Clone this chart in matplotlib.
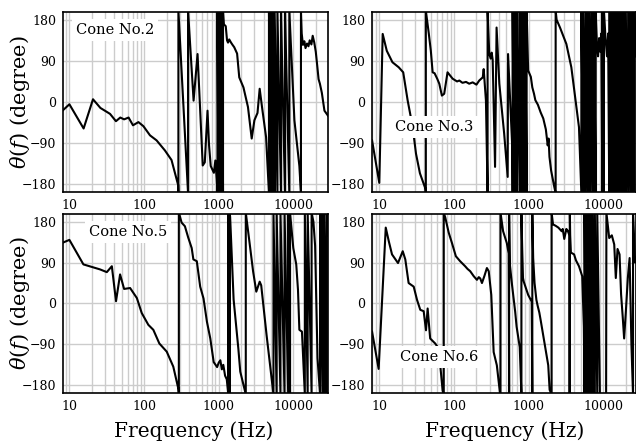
import numpy as np
import matplotlib
matplotlib.use('Agg')
import matplotlib.pyplot as plt
from matplotlib.ticker import LogLocator, NullFormatter

plt.rcParams['font.family'] = 'DejaVu Serif'
plt.rcParams['mathtext.fontset'] = 'dejavuserif'

# phase data: (frequency Hz, phase degree); +-200 marks a wrap
cone2 = [(8.2, -18), (10, -5), (15.5, -58), (20.7, 6), (26, -13), (35, -26), (42, -42), (48, -34),
         (54, -38), (62, -34), (71, -51), (84, -44), (98, -53), (120, -73), (147, -84), (190, -106),
         (233, -127), (286, -182), (288, -200), (288, 200), (388, -200), (388, 200), (460, 3),
         (520, 105), (610, -139), (650, -132), (707, -19), (740, -93), (780, -140), (860, -155),
         (900, -128), (940, -170), (960, -200), (960, 200), (990, -200), (990, 200), (1020, -200),
         (1020, 200), (1050, -200), (1050, 200), (1080, -200), (1080, 200), (1110, -200), (1110, 200),
         (1140, -200), (1140, 200), (1170, 170), (1240, 166), (1290, 135), (1330, 130), (1380, 137),
         (1460, 130), (1530, 125), (1610, 120), (1760, 106), (1880, 54), (2140, 32), (2460, -11),
         (2760, -80), (3000, -40), (3300, -24), (3530, 29), (3800, -12), (4300, -77), (4700, -200),
         (4700, 200), (5000, -200), (5000, 200), (5300, -200), (5300, 200), (5600, -200), (5600, 200),
         (6100, -200), (6100, 200), (6800, -200), (6800, 200), (7700, -200), (7700, 200), (8800, -200),
         (8800, 200), (10300, -40), (12000, -140), (12600, -200), (12600, 200), (12900, 150),
         (13400, 125), (14000, 133), (14500, 118), (15200, 128), (15900, 122), (16500, 135),
         (17400, 126), (18100, 145), (19000, 130), (19900, 110), (20800, 80), (21700, 50),
         (22600, 40), (24000, 20), (26000, -19), (29000, -30)]

cone3 = [(8.0, -84), (10, -177), (11.1, 149), (12.6, 112), (15, 87), (18.2, 76), (20.9, 65), (24, 3),
         (28, -55), (31, -113), (35, -156), (41.3, -189), (42, -200), (42, 200), (46, 150), (49, 112),
         (51.8, 65), (55, 63), (60, 50), (63.6, 40), (68.9, 14), (74, 18), (82, 65), (96, 51),
         (110, 45), (118, 47), (130, 42), (145, 44), (160, 40), (178, 43), (200, 38), (218, 47),
         (243, 54), (250, 72), (268, 3), (282, -200), (282, 200), (297, 105), (310, 95), (320, 108),
         (330, 92), (355, -142), (372, 163), (405, 40), (470, -69), (524, -164), (530, 105),
         (606, -106), (610, -200), (610, 200), (640, -200), (640, 200), (670, -200), (670, 200),
         (700, -200), (700, 200), (760, -200), (760, 200), (800, -200), (800, 200), (850, -200),
         (850, 200), (900, -200), (900, 200), (940, -200), (940, 200), (985, 69), (1070, 55),
         (1120, 32), (1180, 18), (1230, 4), (1330, -6), (1450, -23), (1570, -36), (1700, -60),
         (1800, -95), (1850, -80), (1900, -120), (2000, -150), (2200, -185), (2300, -200), (2300, 200),
         (2370, 180), (2630, 163), (3200, 127), (3730, 76), (4300, -3), (4720, -55), (5080, -200),
         (5080, 200), (5400, -200), (5400, 200), (5800, -200), (5800, 200), (6200, -200), (6200, 200),
         (6600, -200), (6600, 200), (7100, -200), (7100, 200), (7500, -200), (7500, 200), (7900, -200),
         (7900, 200), (8200, 130), (8500, 100), (8800, 140), (9100, 110), (9400, 150), (9700, -200),
         (9700, 200), (10200, -200), (10200, 200), (10700, 140), (11200, 100), (11600, 150),
         (12000, -200), (12000, 200), (12800, -200), (12800, 200), (13600, -200), (13600, 200),
         (14500, -200), (14500, 200), (15300, -200), (15300, 200), (16200, -200), (16200, 200),
         (17000, -200), (17000, 200), (18000, -200), (18000, 200), (19000, -200), (19000, 200),
         (20000, -200), (20000, 200), (21500, -200), (21500, 200), (23000, -200), (23000, 200),
         (24500, -200), (24500, 200), (26000, -200), (26000, 200), (27400, 100)]

cone5 = [(8.2, 134), (10, 140), (15.4, 86), (25.7, 75), (31.7, 69), (37, 82), (42.1, 5), (47.7, 64),
         (54, 32), (65, 34), (80, 12), (93, -21), (114, -47), (133, -58), (160, -88), (201, -106),
         (246, -139), (287, -187), (292, -200), (292, 200), (318, 178), (352, 170), (390, 145),
         (434, 122), (457, 97), (508, 93), (564, 37), (625, 11), (694, -40), (770, -77), (855, -129),
         (950, -140), (1000, -130), (1050, -125), (1100, -145), (1150, -135), (1215, -159),
         (1280, -167), (1340, -200), (1340, 200), (1360, -200), (1360, 200), (1380, -200), (1380, 200),
         (1400, -200), (1400, 200), (1420, 190), (1580, 9), (1830, -100), (1940, -150), (2300, -200),
         (2300, 200), (2600, 130), (2880, 71), (3180, 26), (3530, 48), (3700, 40), (4370, -70),
         (5400, -200), (5400, 200), (5950, -200), (5950, 200), (6700, -200), (6700, 200), (7600, -200),
         (7600, 200), (8500, -200), (8500, 200), (9000, -200), (9000, 200), (9950, 122), (10900, 86),
         (11500, 30), (12000, -58), (13000, -62), (14200, -200), (14200, 200), (15500, -200),
         (15500, 200), (17500, -200), (17500, 200), (18500, 180), (19500, 127), (21000, -120),
         (22700, -200), (22700, 200), (24500, -200), (24500, 200), (26000, -200), (26000, 200),
         (28000, -200), (28000, 200), (29000, 150)]

cone6 = [(8.0, -62), (9.8, -144), (12.2, 167), (13.4, 137), (14.8, 108), (17.8, 89), (20.6, 115),
         (22.3, 97), (24.7, 45), (28.9, 37), (32, 8), (35.4, -14), (39.3, -17), (42.2, -59),
         (44.4, -11), (48, -77), (56, -88), (60, -95), (65.5, -136), (70.5, -192), (73, -200),
         (73, 200), (76.5, 189), (85, 156), (94, 133), (106, 104), (121, 93), (141, 82), (152, 76),
         (165, 71), (184, 60), (203, 52), (215, 58), (225, 55), (237, 45), (255, 60), (276, 78),
         (292, 71), (316, 19), (340, -107), (375, -136), (415, -200), (420, -200), (420, 200),
         (455, 159), (510, 133), (540, 110), (548, -200), (548, 200), (560, 86), (600, 40),
         (660, -18), (690, -51), (760, -96), (800, -200), (800, 200), (820, 120), (840, 56),
         (860, 48), (985, 19), (1100, 4), (1120, -200), (1120, 200), (1150, 100), (1200, 45),
         (1270, 8), (1320, -5), (1390, -20), (1450, -37), (1650, -92), (1830, -136), (1910, -190),
         (2030, -200), (2030, 200), (2120, 174), (2300, 171), (2500, 167), (2770, 159), (2860, 164),
         (3000, 142), (3200, 164), (3340, 160), (3520, 150), (3540, -200), (3560, 200), (3600, 150),
         (3680, 112), (4060, 108), (4300, 95), (4720, 82), (5220, 60), (5490, -51), (5600, -200),
         (5600, 200), (5800, -200), (5800, 200), (6100, -200), (6100, 200), (6400, -200), (6400, 200),
         (6800, -200), (6800, 200), (7200, -200), (7200, 200), (7700, -200), (7700, 200), (8300, -200),
         (8300, 200), (9000, -200), (10900, -200), (11000, 200), (12000, 144), (13000, 150),
         (14000, 130), (14700, 56), (15500, 120), (16500, 108), (17300, 20), (18200, -30),
         (19000, -77), (20000, -20), (21300, 56), (22500, 100), (23800, -91), (25000, -200),
         (25000, 200), (26600, 90), (27400, 100)]

labels = ['Cone No.2', 'Cone No.3', 'Cone No.5', 'Cone No.6']
xticks = [10, 100, 1000, 10000]
yticks = [-180, -90, 0, 90, 180]

fig = plt.figure(figsize=(6.36, 4.43), dpi=100)
positions = [[0.099, 0.5666, 0.4167, 0.4063], [0.585, 0.5666, 0.415, 0.4063],
             [0.099, 0.1129, 0.4167, 0.4041], [0.585, 0.1129, 0.415, 0.4041]]
xlims = [(8.2, 29000), (8.0, 27400), (8.2, 29000), (8.0, 27400)]
label_pos = [(0.196, 0.9), (0.235, 0.361), (0.245, 0.9), (0.254, 0.2)]

for data, pos, xl, name, lp in zip([cone2, cone3, cone5, cone6], positions, xlims, labels, label_pos):
    ax = fig.add_axes(pos)
    d = np.array(data, dtype=float)
    ax.plot(d[:, 0], d[:, 1], color='black', lw=1.5, zorder=3)
    ax.set_xscale('log')
    ax.set_xlim(*xl)
    ax.set_ylim(-197, 197)
    ax.set_xticks(xticks)
    ax.set_xticklabels([str(t) for t in xticks])
    ax.xaxis.set_minor_locator(LogLocator(base=10, subs=np.arange(2, 10)))
    ax.xaxis.set_minor_formatter(NullFormatter())
    ax.set_yticks(yticks)
    ax.grid(True, which='both', axis='x', color='#cccccc', lw=1)
    ax.grid(True, which='major', axis='y', color='#cccccc', lw=1)
    ax.tick_params(which='both', length=0, labelsize=9, pad=5)
    for s in ax.spines.values():
        s.set_linewidth(1.2)
    ax.text(lp[0], lp[1], name, transform=ax.transAxes, ha='center', va='center', fontsize=10.5,
            zorder=5, bbox=dict(facecolor='white', edgecolor='none', pad=3))

fig.text(20 / 636, 0.77, r'$\theta(f)$ (degree)', rotation=90, ha='center', va='center', fontsize=15)
fig.text(20 / 636, 0.315, r'$\theta(f)$ (degree)', rotation=90, ha='center', va='center', fontsize=15)
fig.text(0.305, 0.027, 'Frequency (Hz)', ha='center', va='center', fontsize=14.5)
fig.text(0.793, 0.027, 'Frequency (Hz)', ha='center', va='center', fontsize=14.5)

plt.savefig('out.png', dpi=100)
